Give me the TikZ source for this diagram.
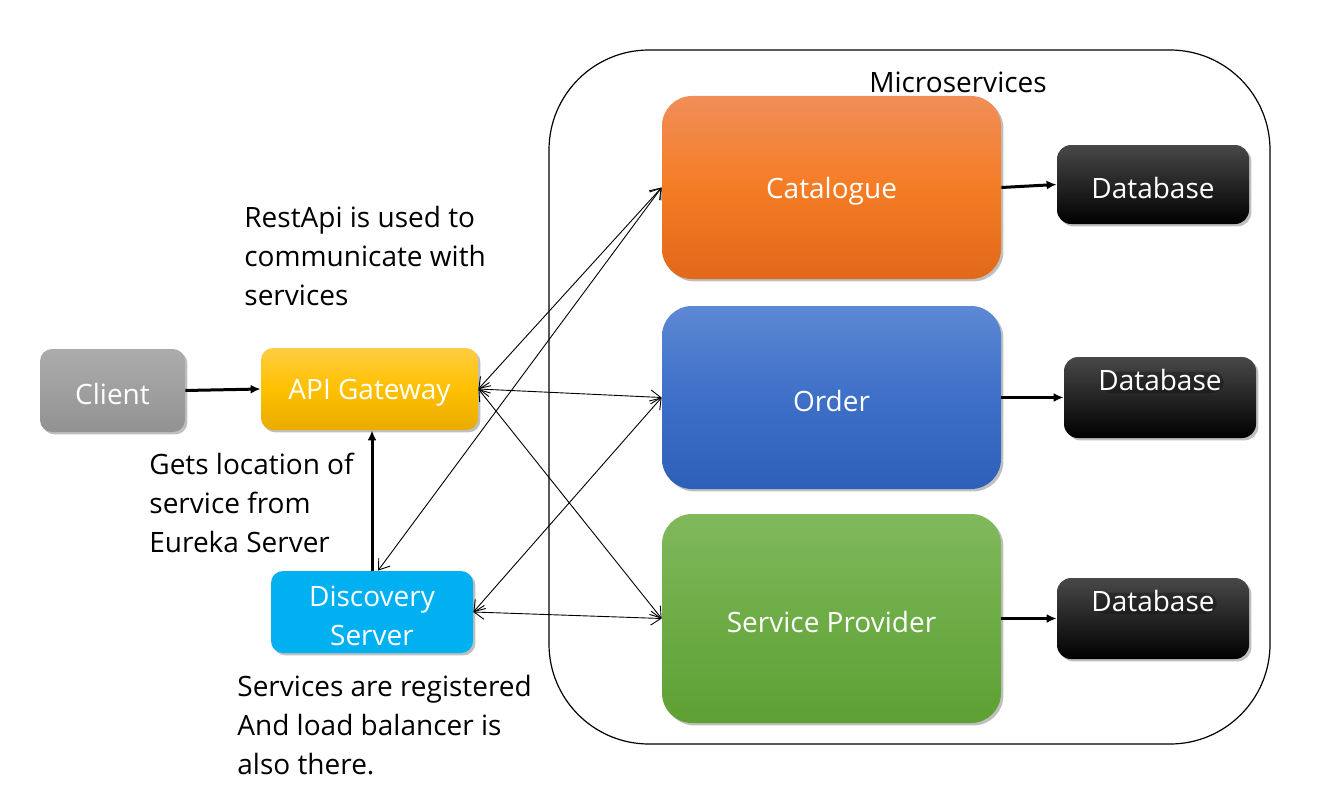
\documentclass[tikz,border=0pt]{standalone}
\usepackage{fontspec}
\setmainfont{Open Sans}
\usetikzlibrary{arrows.meta,shadows}
\definecolor{catT}{RGB}{241,142,88}
\definecolor{catM}{RGB}{244,124,36}
\definecolor{catB}{RGB}{226,104,26}
\definecolor{ordT}{RGB}{93,136,212}
\definecolor{ordM}{RGB}{62,112,200}
\definecolor{ordB}{RGB}{46,95,185}
\definecolor{spT}{RGB}{128,185,92}
\definecolor{spM}{RGB}{110,172,70}
\definecolor{spB}{RGB}{94,160,52}
\definecolor{apiT}{RGB}{255,205,65}
\definecolor{apiM}{RGB}{255,192,0}
\definecolor{apiB}{RGB}{232,172,0}
\definecolor{cliT}{RGB}{172,172,172}
\definecolor{cliB}{RGB}{146,146,146}
\definecolor{disc}{RGB}{0,176,240}
\definecolor{dbT}{RGB}{72,72,72}
\newcommand\dnlbl[1]{\raisebox{-1.8pt}[\height][\depth]{#1}}
\tikzset{
  txt/.style={font=\fontsize{14pt}{19.5pt}\selectfont},
  box/.style={txt, rounded corners=6pt, inner sep=0pt, text=white, align=center,
    drop shadow={shadow xshift=1.2pt, shadow yshift=-1.2pt, opacity=0.25, fill=black}},
  bigbox/.style={box, rounded corners=15pt},
  dbbox/.style={box, top color=dbT, bottom color=black, shading angle=0, rounded corners=7pt},
  note/.style={txt, align=left, anchor=north west, inner sep=0pt},
  thick arrow/.style={line width=1.5pt, -{Latex[length=5pt,width=4.5pt]}},
  thin arrow/.style={line width=0.45pt, {Straight Barb[length=5pt,width=7pt]}-{Straight Barb[length=5pt,width=7pt]}},
}
\begin{document}
\begin{tikzpicture}[x=0.5pt,y=-0.5pt]
\useasboundingbox (0,0) rectangle (1336,808);
% container
\draw[line width=0.6pt, rounded corners=50pt] (549,50) rectangle (1270,744);
\node[txt, inner sep=0pt] (mstitle) at (958,82) {Microservices};

% boxes
\node[box, top color=cliT, bottom color=cliB, minimum width=72.5pt, minimum height=41.5pt] (client) at (112.5,390.5) {\dnlbl{Client}};
\node[box, top color=apiT, bottom color=apiB, middle color=apiM, minimum width=108.5pt, minimum height=41pt] (api) at (369.5,389) {\dnlbl{API Gateway}};
\node[box, fill=disc, minimum width=101pt, minimum height=41pt] (disc) at (372,612) {\dnlbl{Discovery}\\\dnlbl{Server}};
\node[bigbox, top color=catT, bottom color=catB, middle color=catM, minimum width=169.5pt, minimum height=91.5pt] (cat) at (831.5,187.5) {\dnlbl{Catalogue}};
\node[bigbox, top color=ordT, bottom color=ordB, middle color=ordM, minimum width=169.5pt, minimum height=91.5pt] (order) at (831.5,397.5) {\dnlbl{Order}};
\node[bigbox, top color=spT, bottom color=spB, middle color=spM, minimum width=169.5pt, minimum height=104.5pt] (sp) at (831.5,618.5) {\dnlbl{Service Provider}};
\node[dbbox, minimum width=96pt, minimum height=39.5pt] (db1) at (1153,184.5) {\dnlbl{Database}};
\node[dbbox, minimum width=96pt, minimum height=40.5pt] (db2) at (1160,397.5) {};
\node[box, inner sep=0pt, drop shadow={opacity=0}] (db2t) at (1160,380) {Database};
\node[dbbox, minimum width=96pt, minimum height=40.5pt] (db3) at (1153,618.5) {};
\node[box, inner sep=0pt, drop shadow={opacity=0}] (db3t) at (1153,601) {Database};

% notes
\node[note] (n1) at (244,206) {RestApi is used to\\communicate with\\services};
\node[note] (n2) at (149,453) {Gets location of\\service from\\Eureka Server};
\node[note] (n3) at (237,675) {Services are registered\\And load balancer is\\also there.};

% connectors
\draw[thick arrow] (client.east) -- (api.west);
\draw[thick arrow] (disc.north) -- (disc.north |- api.south);
\draw[thick arrow] (cat.east) -- (db1.west);
\draw[thick arrow] (order.east) -- (db2.west);
\draw[thick arrow] (sp.east) -- (db3.west);

\draw[thin arrow] (api.east) -- (cat.west);
\draw[thin arrow] (api.east) -- (order.west);
\draw[thin arrow] (api.east) -- (sp.west);
\draw[thin arrow] ([xshift=3pt]disc.north) -- (cat.west);
\draw[thin arrow] (disc.east) -- (order.west);
\draw[thin arrow] (disc.east) -- (sp.west);
\end{tikzpicture}
\end{document}
